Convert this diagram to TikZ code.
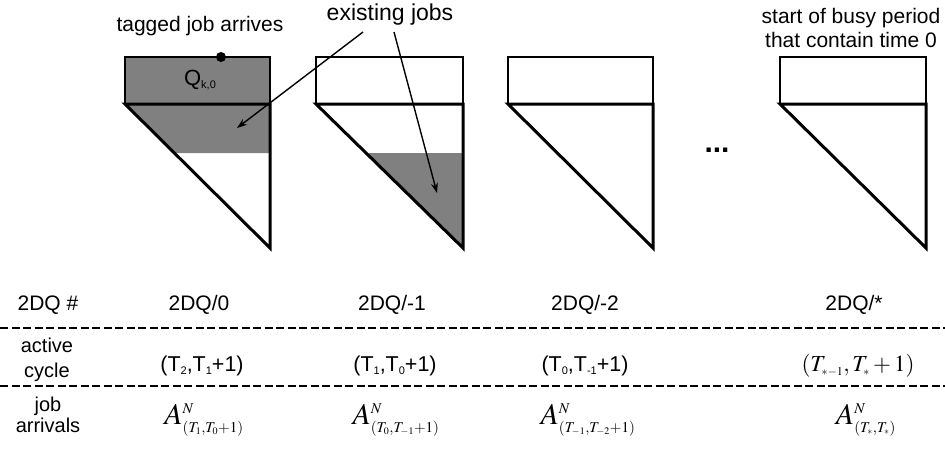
\documentclass[tikz,border=0pt]{standalone}
\usepackage{mathptmx}
\usepackage{fontspec}
\setmainfont{Liberation Sans}
\usetikzlibrary{arrows.meta}
\DeclareMathSizes{30}{30}{15}{10}
\DeclareMathSizes{23}{23}{12}{9}
\newcommand\sbs[1]{\raisebox{-0.12em}{\fontsize{11}{11}\selectfont #1}}
\newcommand\bigA[1]{{\fontsize{30}{30}\selectfont$A^{N}_{#1}$}}
\begin{document}
\begin{tikzpicture}[x=1pt,y=-1pt,
  lbl/.style={font=\fontsize{21}{24}\selectfont, inner sep=0pt, align=center},
  big/.style={font=\fontsize{23}{26}\selectfont, inner sep=0pt},
  cyc/.style={font=\fontsize{21.5}{24}\selectfont, inner sep=0pt},
  rectbox/.style={draw, line width=2.4pt},
  tri/.style={draw, line width=3pt, line join=miter},
  ptr/.style={-{Stealth[length=10pt,width=7pt]}, line width=1.4pt},
  sep/.style={dash pattern=on 8pt off 3.5pt, line width=1.4pt}]
\useasboundingbox (0,0) rectangle (945,455);
\definecolor{jobgray}{HTML}{808080}
% shape 1
\fill[jobgray] (125,57) rectangle (270,104);
\fill[jobgray] (125,104) -- (270,104) -- (270,153) -- (174.3,153) -- cycle;
\draw[rectbox] (125,57) rectangle (270,104);
\draw[tri] (125,104) -- (270,104) -- (270,248) -- cycle;
\fill (221,57) circle (5);
\node[font=\fontsize{22}{24}\selectfont, inner sep=0pt] (q) at (200,80) {Q\sbs{k,0}};
% shape 2
\fill[jobgray] (366,153) -- (463,153) -- (463,248) -- cycle;
\draw[rectbox] (316,57) rectangle (463,104);
\draw[tri] (316,104) -- (463,104) -- (463,248) -- cycle;
% shape 3
\draw[rectbox] (508,57) rectangle (653,104);
\draw[tri] (508,104) -- (653,104) -- (653,248) -- cycle;
% dots
\node[font=\fontsize{30}{30}\selectfont\bfseries, inner sep=0pt] (dots) at (717,150) {...};
% shape 4
\draw[rectbox] (780,57) rectangle (926,104);
\draw[tri] (780,104) -- (926,104) -- (926,248) -- cycle;
% top labels
\node[lbl] (tag) at (200,26) {tagged job arrives};
\node[big] (ex) at (390,15) {existing jobs};
\node[lbl] (bp) at (851,28) {start of busy period\\that contain time 0};
\coordinate (e1) at (237,128);
\coordinate (e2) at (437,193);
\draw[ptr] (363,32) -- (e1);
\draw[ptr] (394,32) -- (e2);
% table
\draw[sep] (0,328) -- (945,328);
\draw[sep] (0,386) -- (945,386);
\node[lbl] (h0) at (48,305) {2DQ \#};
\node[lbl] (h1) at (199,305) {2DQ/0};
\node[lbl] (h2) at (392,305) {2DQ/-1};
\node[lbl] (h3) at (585,305) {2DQ/-2};
\node[lbl] (h4) at (854,305) {2DQ/*};
\node[lbl, font=\fontsize{20}{25}\selectfont] (r1) at (47,360) {active\\cycle};
\node[cyc] (c1) at (202,366) {(T\sbs{2},T\sbs{1}+1)};
\node[cyc] (c2) at (395,366) {(T\sbs{1},T\sbs{0}+1)};
\node[cyc] (c3) at (585,366) {(T\sbs{0},T\sbs{-1}+1)};
\node[inner sep=0pt, font=\fontsize{23}{26}\selectfont] (c4) at (858,366) {$(T_{*-1},T_{*}+1)$};
\node[lbl, font=\fontsize{20}{21}\selectfont] (r2) at (48,415) {job\\arrivals};
\node[inner sep=0pt] (a1) at (204,420) {\bigA{(T_1,T_0+1)}};
\node[inner sep=0pt] (a2) at (396,420) {\bigA{(T_0,T_{-1}+1)}};
\node[inner sep=0pt] (a3) at (588,420) {\bigA{(T_{-1},T_{-2}+1)}};
\node[inner sep=0pt] (a4) at (866,420) {\bigA{(T_{*},T_{*})}};
\end{tikzpicture}
\end{document}
